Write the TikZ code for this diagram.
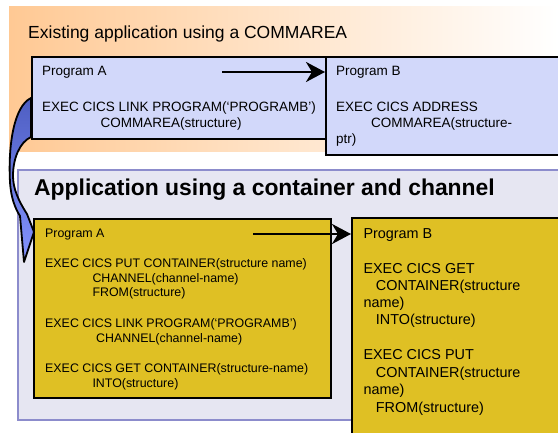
\documentclass[tikz,border=0pt]{standalone}
\usepackage{fontspec}
\setmainfont{Liberation Sans}
\usetikzlibrary{arrows.meta}
\definecolor{orangebg}{HTML}{FFC994}
\definecolor{lav}{HTML}{D2D8FA}
\definecolor{panelfill}{HTML}{E6E6F2}
\definecolor{panelline}{HTML}{8C8CCC}
\definecolor{mustard}{HTML}{DFC024}
\definecolor{arrdark}{HTML}{4E5EC2}
\definecolor{arrlight}{HTML}{8494FF}
\begin{document}
\begin{tikzpicture}[x=1pt,y=-1pt,
  lavbox/.style={draw=black, line width=1.7pt, fill=lav, rectangle, inner sep=0pt, anchor=north west},
  yelbox/.style={draw=black, line width=1.7pt, fill=mustard, rectangle, inner sep=0pt, anchor=north west},
  txt/.style={anchor=base west, inner sep=0pt},
  toptxt/.style={txt, font=\fontsize{13.5}{16}\selectfont},
  atxt/.style={txt, font=\fontsize{12.4}{15}\selectfont},
  btxt/.style={txt, font=\fontsize{14.4}{17}\selectfont},
  flowarrow/.style={line width=2.8pt, -{Stealth[length=19pt, width=20pt, inset=6pt]}},
  curvarrow/.style={draw=black, line width=1.8pt, top color=arrdark, bottom color=arrlight, line join=round}
]
\useasboundingbox (0,0) rectangle (558,433);
\clip (0,0) rectangle (558,433);
\fill[white] (0,0) rectangle (558,433);
% top background
\shade[left color=orangebg, right color=white] (9,7) rectangle (558,152);
\node[txt, font=\fontsize{17.5}{20}\selectfont] (toptitle) at (28,39) {Existing application using a COMMAREA};
% top boxes
\node[lavbox, minimum width=294pt, minimum height=82pt] (topA) at (31,56) {};
\node[lavbox, minimum width=245pt, minimum height=98.5pt] (topB) at (325,56) {};
\node[toptxt] (tA1) at (42,76) {Program A};
\node[toptxt] (tA2) at (42,111.7) {EXEC CICS LINK PROGRAM(‘PROGRAMB’)};
\node[toptxt] (tA3) at (100.5,127.7) {COMMAREA(structure)};
\node[toptxt] (tB1) at (336,76) {Program B};
\node[toptxt] (tB2) at (336,111.7) {EXEC CICS ADDRESS};
\node[toptxt] (tB3) at (371,127.7) {COMMAREA(structure-};
\node[toptxt] (tB4) at (336,143.7) {ptr)};
\coordinate (arrAstart) at (222,72);
\draw[flowarrow] (arrAstart) -- (topB.west |- arrAstart);
% bottom panel
\node[draw=panelline, line width=2.2pt, fill=panelfill, rectangle, inner sep=0pt, anchor=north west,
      minimum width=560pt, minimum height=250pt] (panel) at (17,169) {};
\node[txt, font=\bfseries\fontsize{22.9}{26}\selectfont] (bottitle) at (34,195.7) {Application using a container and channel};
\node[yelbox, minimum width=297pt, minimum height=179pt] (botA) at (33,218) {};
\node[yelbox, minimum width=230pt, minimum height=230pt] (botB) at (351,217) {};
\node[atxt] (bA1) at (45,237.3) {Program A};
\node[atxt] (bA2) at (45,267.3) {EXEC CICS PUT CONTAINER(structure name)};
\node[atxt] (bA3) at (92.3,282.3) {CHANNEL(channel-name)};
\node[atxt] (bA4) at (92.3,297) {FROM(structure)};
\node[atxt] (bA5) at (45,327.3) {EXEC CICS LINK PROGRAM(‘PROGRAMB’)};
\node[atxt] (bA6) at (96,342.7) {CHANNEL(channel-name)};
\node[atxt] (bA7) at (45,372.7) {EXEC CICS GET CONTAINER(structure-name)};
\node[atxt] (bA8) at (92.3,388) {INTO(structure)};
\node[btxt] (bB1) at (363.3,238.3) {Program B};
\node[btxt] (bB2) at (363.3,273.3) {EXEC CICS GET};
\node[btxt] (bB3) at (375.7,290.7) {CONTAINER(structure};
\node[btxt] (bB4) at (363.3,307.5) {name)};
\node[btxt] (bB5) at (375.7,325) {INTO(structure)};
\node[btxt] (bB6) at (363.3,360) {EXEC CICS PUT};
\node[btxt] (bB7) at (375.7,377.7) {CONTAINER(structure};
\node[btxt] (bB8) at (363.3,395) {name)};
\node[btxt] (bB9) at (375.7,412.7) {FROM(structure)};
\coordinate (arrBstart) at (253,234);
\draw[flowarrow] (arrBstart) -- (botB.west |- arrBstart);
% curved block arrow from top Program A to bottom Program A
\path[curvarrow] (31,98) .. controls (14,106) and (8,145) .. (10,182)
  .. controls (11,198) and (15,208) .. (20,216) -- (24,262) -- (34,232) -- (27,214)
  .. controls (18,200) and (13,188) .. (13,176)
  .. controls (13,158) and (20,142) .. (31,137) -- cycle;
\end{tikzpicture}
\end{document}
